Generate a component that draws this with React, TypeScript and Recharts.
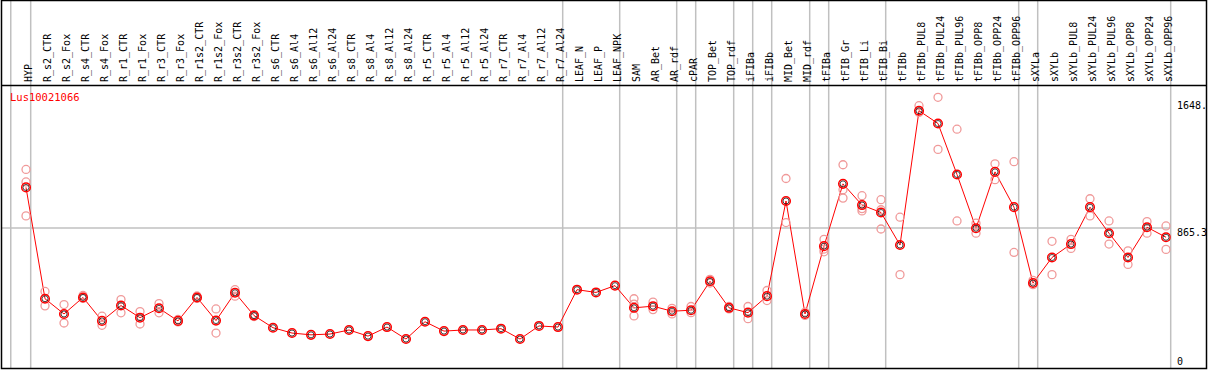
import React from 'react';
import { ComposedChart, Line, XAxis, YAxis, ReferenceLine } from 'recharts';

// sample names along the top
const categories = [
  'HYP', 'R_s2_CTR', 'R_s2_Fox', 'R_s4_CTR', 'R_s4_Fox', 'R_r1_CTR', 'R_r1_Fox', 'R_r3_CTR', 'R_r3_Fox',
  'R_r1s2_CTR', 'R_r1s2_Fox', 'R_r3s2_CTR', 'R_r3s2_Fox', 'R_s6_CTR', 'R_s6_Al4', 'R_s6_Al12', 'R_s6_Al24',
  'R_s8_CTR', 'R_s8_Al4', 'R_s8_Al12', 'R_s8_Al24', 'R_r5_CTR', 'R_r5_Al4', 'R_r5_Al12', 'R_r5_Al24',
  'R_r7_CTR', 'R_r7_Al4', 'R_r7_Al12', 'R_r7_Al24', 'LEAF_N', 'LEAF_P', 'LEAF_NPK', 'SAM', 'AR_Bet', 'AR_rdf',
  'cPAR', 'TOP_Bet', 'TOP_rdf', 'iFIBa', 'iFIBb', 'MID_Bet', 'MID_rdf', 'tFIBa', 'tFIB_Gr', 'tFIB_Li', 'tFIB_Bi',
  'tFIBb', 'tFIBb_PUL8', 'tFIBb_PUL24', 'tFIBb_PUL96', 'tFIBb_OPP8', 'tFIBb_OPP24', 'tFIBb_OPP96', 'sXYLa',
  'sXYLb', 'sXYLb_PUL8', 'sXYLb_PUL24', 'sXYLb_PUL96', 'sXYLb_OPP8', 'sXYLb_OPP24', 'sXYLb_OPP96',
];

const meanValues = [
  1116, 428, 334, 436, 291, 386, 311, 369, 291, 436, 293, 465, 324, 249, 216, 205, 210,
  235, 197, 253, 179, 286, 228, 235, 235, 243, 179, 260, 253, 484, 467, 509, 372, 382, 351,
  357, 536, 372, 342, 444, 1032, 334, 753, 1138, 1007, 961, 760, 1590, 1511, 1196, 864, 1212, 994,
  525, 683, 766, 994, 833, 683, 870, 808,
];

// replicate measurements (null = no separate replicate visible)
const rep1 = [
  1227, 473, 392, 448, 320, 423, 349, 398, 300, 445, 365, 484, 330, null, null, null, null,
  null, null, null, null, null, null, null, null, null, null, null, null, null, null, null, 428, 407, 369,
  380, 548, 380, 380, 479, 1171, 345, 795, 1256, 1065, 1040, 932, 1621, 1673, 1476, 895, 1262, 1275,
  542, 783, 795, 1046, 909, 724, 905, 878,
];
const rep2 = [
  940, 384, 278, 430, 264, 341, 272, 341, 285, 430, 216, 444, 318, null, null, null, null,
  null, null, null, null, null, null, null, null, null, null, null, null, null, null, null, 322, 361, 334,
  342, 525, 365, 305, 417, 899, 325, 718, 1050, 971, 859, 577, 1580, 1351, 909, 833, 1164, 714,
  515, 577, 739, 940, 766, 640, 833, 733,
];
const rep3 = [
  1150, null, null, null, null, null, null, null, null, null, null, null, null, null, null, null, null,
  null, null, null, null, null, null, null, null, null, null, null, null, null, null, null, 395, null, null,
  null, null, null, null, null, null, null, 735, 1102, 985, 978, null, null, null, null, null, null, null,
  null, null, null, null, null, null, null, null,
];

// a grey separator follows each of these samples
const groupEnds = [
  'HYP', 'R_r7_Al24', 'LEAF_NPK', 'AR_rdf', 'cPAR', 'TOP_rdf', 'iFIBa', 'iFIBb', 'MID_rdf', 'tFIBa',
  'tFIB_Bi', 'tFIBb_OPP96', 'sXYLa', 'sXYLb_OPP96',
];

const yTicks = [0, 865.3, 1648];
const yTickLabels = ['0', '865.3', '1648.'];
const geneId = 'Lus10021066';

const W = 1209;
const H = 370;
const PLOT_LEFT = 11.7;
const PLOT_RIGHT = 1170.7;
const PLOT_BOTTOM = 368;
const HEADER = 85;
const X_MIN = -0.753;
const X_MAX = categories.length - 1 + 0.247;
const Y_MAX = 1749;
const GREY = '#c0c0c0';
const FONT = '"DejaVu Sans Mono", monospace';

const data = categories.map((name, i) => ({
  x: i,
  name,
  mean: meanValues[i],
  rep1: rep1[i],
  rep2: rep2[i],
  rep3: rep3[i],
}));

const separators = [X_MIN - 0.05, ...groupEnds.map((g) => categories.indexOf(g) + 0.247)];

const CategoryTick = (props: any) => {
  const { x, payload } = props;
  return (
    <text
      transform={`translate(${x + 6},82) rotate(-90)`}
      fontSize={10}
      fontFamily={FONT}
      fill="#000"
    >
      {categories[payload.value]}
    </text>
  );
};

const ValueTick = (props: any) => {
  const { y, payload } = props;
  const i = yTicks.indexOf(payload.value);
  return (
    <text x={1177} y={payload.value === 0 ? y - 3 : y + 8} fontSize={10} fontFamily={FONT} fill="#000">
      {yTickLabels[i]}
    </text>
  );
};

const RepDot = (props: any) => {
  const { cx, cy, value, index } = props;
  if (value == null || cy == null || isNaN(cy)) return <g key={`r-${index}`} />;
  return <circle key={`r-${index}`} cx={cx} cy={cy} r={4} fill="none" stroke="#f09a9a" strokeWidth={1.3} />;
};

const MeanDot = (props: any) => {
  const { cx, cy, index } = props;
  if (cy == null || isNaN(cy)) return <g key={`m-${index}`} />;
  return (
    <g key={`m-${index}`}>
      <circle cx={cx} cy={cy} r={4.3} fill="none" stroke="#ff0000" strokeWidth={1.5} />
      <circle cx={cx} cy={cy} r={3} fill="none" stroke="#000" strokeWidth={0.7} />
    </g>
  );
};

export default function App() {
  return (
    <div style={{ position: 'absolute', left: 0, top: 0, width: W, height: H, background: '#fff' }}>
      <ComposedChart
        width={W}
        height={H}
        data={data}
        margin={{ top: 0, right: 0, bottom: H - PLOT_BOTTOM, left: PLOT_LEFT }}
      >
        <XAxis
          dataKey="x"
          type="number"
          orientation="top"
          height={HEADER}
          domain={[X_MIN, X_MAX]}
          ticks={categories.map((_, i) => i)}
          interval={0}
          axisLine={false}
          tickLine={false}
          tick={<CategoryTick />}
          allowDataOverflow
        />
        <YAxis
          orientation="right"
          width={W - PLOT_RIGHT}
          domain={[0, Y_MAX]}
          ticks={yTicks}
          interval={0}
          axisLine={false}
          tickLine={false}
          tick={<ValueTick />}
          allowDataOverflow
        />
        <ReferenceLine
          y={865.3}
          shape={(p: any) => <line x1={1} x2={PLOT_RIGHT} y1={p.y1} y2={p.y2} stroke={GREY} strokeWidth={1.5} />}
        />
        {separators.map((s) => (
          <ReferenceLine
            key={s}
            x={s}
            ifOverflow="visible"
            shape={(p: any) => <line x1={p.x1} x2={p.x2} y1={0} y2={369} stroke={GREY} strokeWidth={1.5} />}
          />
        ))}
        {['rep1', 'rep2', 'rep3'].map((k) => (
          <Line
            key={k}
            dataKey={k}
            stroke="none"
            dot={RepDot}
            activeDot={false}
            isAnimationActive={false}
          />
        ))}
        <Line
          dataKey="mean"
          type="linear"
          stroke="#ff0000"
          strokeWidth={1}
          dot={MeanDot}
          activeDot={false}
          isAnimationActive={false}
        />
      </ComposedChart>
      <svg width={W} height={H} style={{ position: 'absolute', left: 0, top: 0, pointerEvents: 'none' }}>
        <rect x={1.5} y={0.5} width={1205} height={368} fill="none" stroke="#000" strokeWidth={1.5} />
        <line x1={1} x2={1207} y1={85.5} y2={85.5} stroke="#000" strokeWidth={1.5} />
        <text x={10} y={101} fontSize={10.5} fontFamily={FONT} fill="#ff0000">
          {geneId}
        </text>
      </svg>
    </div>
  );
}
